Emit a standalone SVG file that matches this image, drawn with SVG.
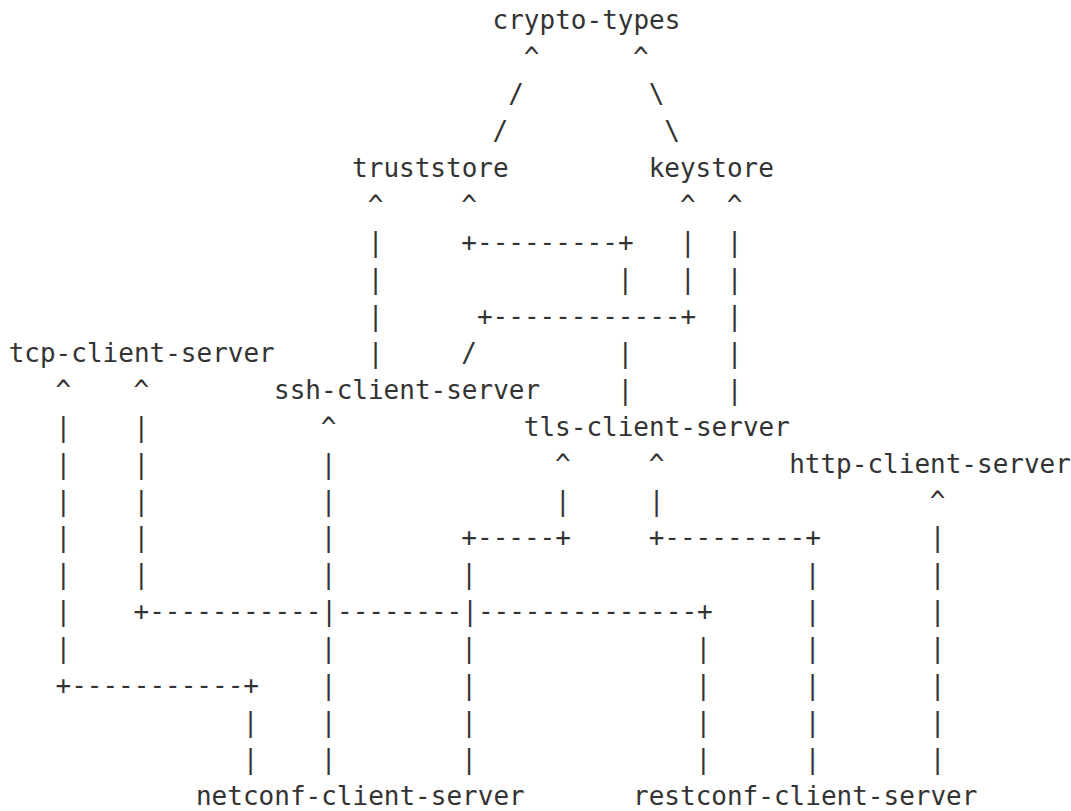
<svg xmlns="http://www.w3.org/2000/svg" width="1071" height="811" viewBox="0 0 1071 811">
<style>
text{font-family:"DejaVu Sans Mono","Liberation Mono",monospace;font-size:26px;fill:#333;white-space:pre}
</style>
<rect width="1071" height="811" fill="#fff"/>
<g id="node-crypto-types"><text x="492.57" y="29.3">crypto-types</text></g>
<g id="node-truststore"><text x="352.08" y="177.06">truststore</text></g>
<g id="node-keystore"><text x="648.67" y="177.06">keystore</text></g>
<g id="node-tcp-client-server"><text x="8.66" y="361.76">tcp-client-server</text></g>
<g id="node-ssh-client-server"><text x="274.03" y="398.7">ssh-client-server</text></g>
<g id="node-tls-client-server"><text x="523.79" y="435.64">tls-client-server</text></g>
<g id="node-http-client-server"><text x="789.16" y="472.58">http-client-server</text></g>
<g id="node-netconf-client-server"><text x="195.98" y="805.04">netconf-client-server</text></g>
<g id="node-restconf-client-server"><text x="633.06" y="805.04">restconf-client-server</text></g>
<g id="connectors">
<!-- row 1 -->
<text x="523.79" y="66.24">^</text><text x="633.06" y="66.24">^</text>
<!-- row 2 -->
<text x="508.18" y="103.18">/</text><text x="648.67" y="103.18">\</text>
<!-- row 3 -->
<text x="492.57" y="140.12">/</text><text x="664.28" y="140.12">\</text>
<!-- row 5 -->
<text x="367.69" y="214">^</text><text x="461.35" y="214">^</text><text x="679.89" y="214">^</text><text x="726.72" y="214">^</text>
<!-- row 6 -->
<text x="367.69" y="250.94">|</text><text x="461.35" y="250.94">+---------+</text><text x="679.89" y="250.94">|</text><text x="726.72" y="250.94">|</text>
<!-- row 7 -->
<text x="367.69" y="287.88">|</text><text x="617.45" y="287.88">|</text><text x="679.89" y="287.88">|</text><text x="726.72" y="287.88">|</text>
<!-- row 8 -->
<text x="367.69" y="324.82">|</text><text x="476.96" y="324.82">+------------+</text><text x="726.72" y="324.82">|</text>
<!-- row 9 -->
<text x="367.69" y="361.76">|</text><text x="461.35" y="361.76">/</text><text x="617.45" y="361.76">|</text><text x="726.72" y="361.76">|</text>
<!-- row 10 -->
<text x="55.49" y="398.7">^</text><text x="133.54" y="398.7">^</text><text x="617.45" y="398.7">|</text><text x="726.72" y="398.7">|</text>
<!-- row 11 -->
<text x="55.49" y="435.64">|</text><text x="133.54" y="435.64">|</text><text x="320.86" y="435.64">^</text>
<!-- row 12 -->
<text x="55.49" y="472.58">|</text><text x="133.54" y="472.58">|</text><text x="320.86" y="472.58">|</text><text x="555.01" y="472.58">^</text><text x="648.67" y="472.58">^</text>
<!-- row 13 -->
<text x="55.49" y="509.52">|</text><text x="133.54" y="509.52">|</text><text x="320.86" y="509.52">|</text><text x="555.01" y="509.52">|</text><text x="648.67" y="509.52">|</text><text x="929.65" y="509.52">^</text>
<!-- row 14 -->
<text x="55.49" y="546.46">|</text><text x="133.54" y="546.46">|</text><text x="320.86" y="546.46">|</text><text x="461.35" y="546.46">+-----+</text><text x="648.67" y="546.46">+---------+</text><text x="929.65" y="546.46">|</text>
<!-- row 15 -->
<text x="55.49" y="583.4">|</text><text x="133.54" y="583.4">|</text><text x="320.86" y="583.4">|</text><text x="461.35" y="583.4">|</text><text x="804.77" y="583.4">|</text><text x="929.65" y="583.4">|</text>
<!-- row 16 -->
<text x="55.49" y="620.34">|</text><text x="133.54" y="620.34">+-----------|--------|--------------+</text><text x="804.77" y="620.34">|</text><text x="929.65" y="620.34">|</text>
<!-- row 17 -->
<text x="55.49" y="657.28">|</text><text x="320.86" y="657.28">|</text><text x="461.35" y="657.28">|</text><text x="695.5" y="657.28">|</text><text x="804.77" y="657.28">|</text><text x="929.65" y="657.28">|</text>
<!-- row 18 -->
<text x="55.49" y="694.22">+-----------+</text><text x="320.86" y="694.22">|</text><text x="461.35" y="694.22">|</text><text x="695.5" y="694.22">|</text><text x="804.77" y="694.22">|</text><text x="929.65" y="694.22">|</text>
<!-- row 19 -->
<text x="242.81" y="731.16">|</text><text x="320.86" y="731.16">|</text><text x="461.35" y="731.16">|</text><text x="695.5" y="731.16">|</text><text x="804.77" y="731.16">|</text><text x="929.65" y="731.16">|</text>
<!-- row 20 -->
<text x="242.81" y="768.1">|</text><text x="320.86" y="768.1">|</text><text x="461.35" y="768.1">|</text><text x="695.5" y="768.1">|</text><text x="804.77" y="768.1">|</text><text x="929.65" y="768.1">|</text>
</g>
</svg>
